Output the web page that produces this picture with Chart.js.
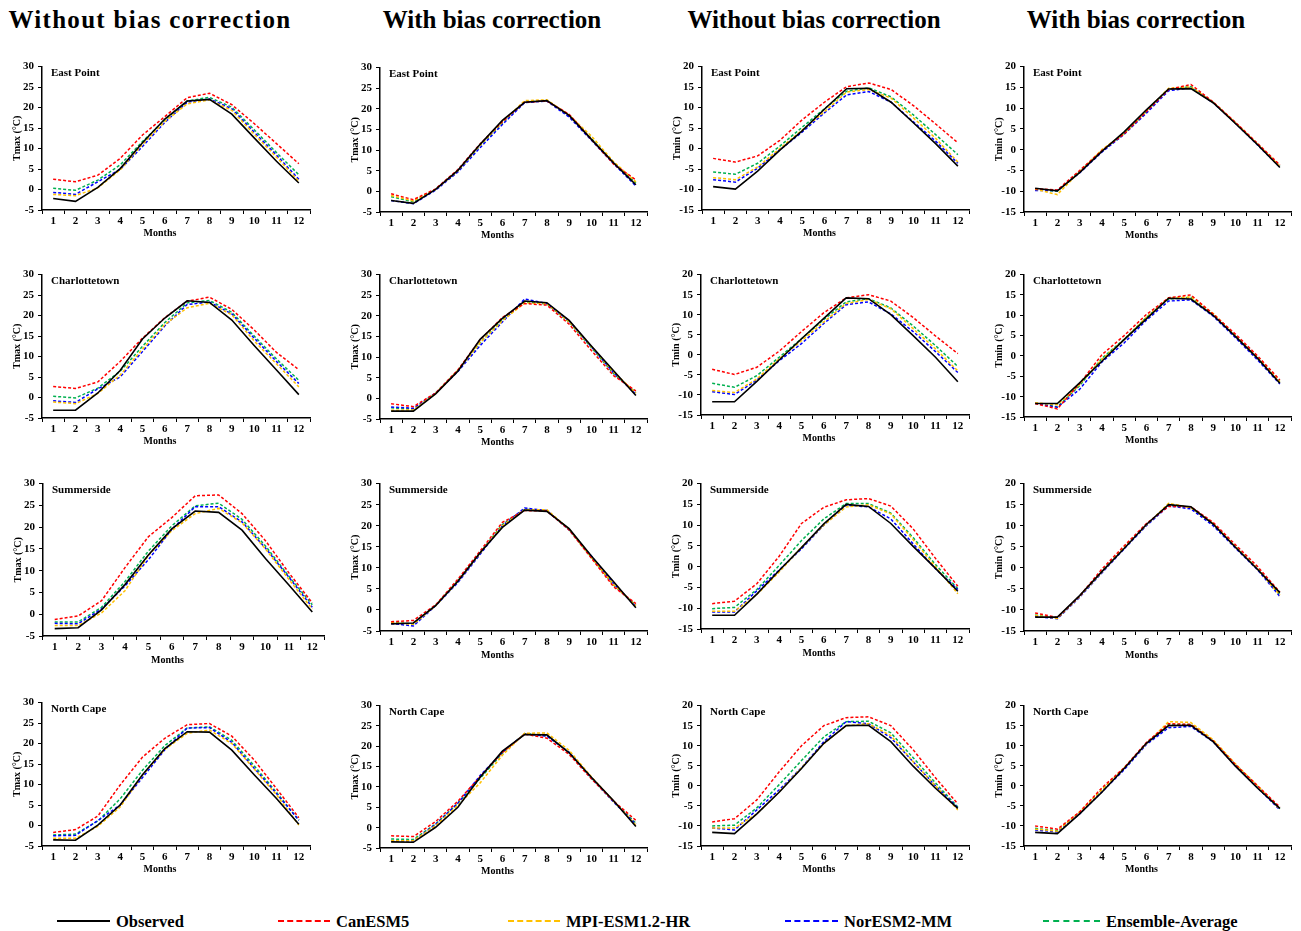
<!DOCTYPE html>
<html>
<head>
<meta charset="utf-8">
<script src="https://cdn.jsdelivr.net/npm/chart.js@4.4.1/dist/chart.umd.min.js"></script>
<style>
  html, body { margin: 0; padding: 0; background: #fff; }
  #page { position: relative; width: 1301px; height: 931px; overflow: hidden; background: #fff; }
  .heading { position: absolute; top: 6px; font: bold 25px "Liberation Serif", "Times New Roman", serif; color: #000; transform: translateX(-50%); white-space: nowrap; }
  canvas.panel { position: absolute; }
  .legend-line { position: absolute; height: 0; }
  .legend-text { position: absolute; font: bold 16.5px "Liberation Serif", "Times New Roman", serif; color: #000; white-space: nowrap; line-height: 20px; }
</style>
</head>
<body>
<div id="page"></div>
<script>
// ---- Data (monthly mean temperatures, °C) ----
const months = ['1', '2', '3', '4', '5', '6', '7', '8', '9', '10', '11', '12'];
const stations = ['East Point', 'Charlottetown', 'Summerside', 'North Cape'];
const seriesNames = ['Observed', 'CanESM5', 'MPI-ESM1.2-HR', 'NorESM2-MM', 'Ensemble-Average'];
const columnHeadings = ['Without bias correction', 'With bias correction', 'Without bias correction', 'With bias correction'];
const tmaxTicks = { min: -5, max: 30, step: 5 };
const tminTicks = { min: -15, max: 20, step: 5 };

// Observed station climatology
const eastPointTmaxObs     = [-2.2, -2.9, 0.5, 5.1, 11.4, 17.2, 21.6, 22.0, 18.4, 12.6, 6.9, 1.6];
const eastPointTminObs     = [-9.3, -9.9, -5.5, -0.4, 4.3, 9.6, 14.6, 14.7, 11.3, 6.3, 1.2, -4.3];
const charlottetownTmaxObs = [-3.1, -3.1, 1.1, 6.6, 14.3, 19.4, 23.6, 23.2, 18.9, 12.7, 6.7, 0.7];
const charlottetownTminObs = [-11.7, -11.7, -6.6, -1.3, 4.0, 9.1, 14.2, 14.0, 10.0, 4.8, -0.6, -6.7];
const summersideTmaxObs    = [-3.3, -3.1, 1.0, 6.8, 13.6, 19.6, 23.7, 23.4, 19.3, 12.8, 6.7, 0.5];
const summersideTminObs    = [-11.7, -11.7, -6.6, -0.9, 4.6, 10.3, 15.0, 14.5, 10.4, 4.9, -0.4, -5.9];
const northCapeTmaxObs     = [-3.5, -3.6, 0.1, 5.0, 12.4, 18.8, 22.9, 22.8, 18.4, 12.4, 6.6, 0.3];
const northCapeTminObs     = [-11.6, -11.9, -7.0, -1.6, 4.3, 10.6, 15.0, 15.1, 11.0, 4.9, -0.6, -5.6];

// Model series, in order: CanESM5, MPI-ESM1.2-HR, NorESM2-MM, Ensemble-Average
const eastPointTmaxRaw = [
  [2.5, 1.9, 3.5, 7.6, 13.3, 17.8, 22.4, 23.5, 20.7, 16.1, 11.2, 6.3],
  [-1.2, -1.5, 0.4, 4.8, 11.0, 16.6, 20.9, 21.9, 19.3, 13.5, 7.9, 2.0],
  [-0.7, -1.2, 1.9, 4.9, 10.5, 16.4, 21.3, 22.1, 19.7, 14.0, 8.4, 2.5],
  [0.3, -0.2, 2.3, 6.0, 11.7, 17.0, 21.6, 22.5, 20.1, 14.6, 9.0, 3.6]
];
const eastPointTmaxCorrected = [
  [-0.6, -2.0, 0.6, 5.3, 11.5, 16.9, 21.6, 21.9, 18.7, 12.6, 6.6, 2.8],
  [-1.0, -2.3, 0.5, 5.0, 11.2, 16.8, 22.0, 22.2, 18.5, 13.4, 7.2, 2.3],
  [-2.2, -3.0, 0.3, 4.7, 10.6, 16.2, 21.5, 21.9, 18.0, 12.4, 6.7, 1.3],
  [-1.3, -2.5, 0.5, 5.0, 11.1, 16.6, 21.7, 22.0, 18.4, 12.8, 6.8, 2.1]
];
const eastPointTminRaw = [
  [-2.4, -3.3, -1.8, 2.0, 7.0, 11.3, 15.1, 16.0, 14.4, 10.5, 6.0, 1.4],
  [-7.1, -7.6, -4.5, 0.0, 4.5, 9.0, 13.8, 14.4, 12.3, 7.5, 2.5, -3.3],
  [-7.6, -8.2, -4.8, -0.3, 4.0, 8.7, 13.1, 13.9, 11.3, 6.5, 1.8, -3.6],
  [-5.7, -6.3, -3.6, 0.6, 5.2, 9.7, 14.0, 14.8, 12.6, 8.2, 3.4, -1.5]
];
const eastPointTminCorrected = [
  [-9.4, -9.7, -5.0, -0.2, 3.8, 9.2, 14.5, 15.7, 11.5, 6.6, 1.5, -3.7],
  [-9.5, -10.8, -5.3, 0.0, 3.9, 9.3, 14.8, 15.1, 11.4, 6.5, 1.3, -4.0],
  [-9.8, -9.8, -5.6, -0.6, 3.7, 8.8, 14.2, 14.9, 11.3, 6.4, 1.1, -4.2],
  [-9.6, -10.0, -5.3, -0.3, 3.8, 9.1, 14.5, 15.2, 11.4, 6.5, 1.3, -4.0]
];

const charlottetownTmaxRaw = [
  [2.7, 2.2, 3.8, 8.8, 14.5, 19.5, 23.5, 24.5, 21.5, 16.5, 11.0, 6.8],
  [-1.1, -1.5, 1.0, 5.5, 11.8, 17.8, 21.9, 23.0, 20.2, 13.8, 8.2, 2.6],
  [-0.8, -1.2, 2.1, 5.0, 11.2, 17.5, 22.7, 23.3, 20.4, 14.5, 8.8, 3.4],
  [0.3, -0.1, 2.3, 6.4, 12.5, 18.3, 23.1, 23.7, 20.8, 15.0, 9.4, 4.2]
];
const charlottetownTmaxCorrected = [
  [-1.3, -2.0, 1.3, 6.9, 14.2, 19.6, 23.0, 22.6, 18.0, 11.6, 5.5, 1.8],
  [-2.9, -2.8, 1.2, 6.8, 13.5, 18.8, 23.1, 23.0, 18.6, 12.6, 6.4, 1.3],
  [-2.1, -2.4, 1.3, 6.5, 12.8, 18.5, 24.1, 23.0, 18.8, 12.5, 6.2, 1.0],
  [-2.3, -2.6, 1.3, 6.7, 13.5, 19.0, 23.4, 22.9, 18.5, 12.3, 6.0, 1.4]
];
const charlottetownTminRaw = [
  [-3.6, -4.9, -3.1, 0.9, 5.8, 10.5, 14.2, 15.0, 13.4, 9.3, 4.7, 0.3],
  [-8.9, -9.4, -6.0, -1.0, 3.5, 8.2, 12.8, 13.8, 11.5, 6.5, 1.5, -4.0],
  [-9.2, -9.9, -6.3, -1.5, 2.8, 7.8, 12.5, 13.2, 10.2, 5.8, 0.8, -4.4],
  [-7.1, -8.1, -5.2, -0.6, 4.0, 8.8, 13.2, 14.0, 11.7, 7.2, 2.3, -2.9]
];
const charlottetownTminCorrected = [
  [-11.7, -13.0, -6.8, 0.3, 5.0, 10.2, 14.3, 15.0, 10.3, 5.4, 0.0, -5.9],
  [-11.5, -12.0, -7.0, -0.8, 4.0, 9.5, 14.3, 14.5, 10.5, 5.0, -0.4, -6.3],
  [-11.6, -12.6, -8.2, -1.5, 3.2, 8.8, 13.5, 13.8, 9.8, 4.5, -1.0, -6.9],
  [-11.6, -12.5, -7.3, -0.6, 4.1, 9.5, 14.0, 14.4, 10.2, 5.0, -0.5, -6.4]
];

const summersideTmaxRaw = [
  [-1.2, -0.4, 3.1, 10.7, 17.8, 22.2, 27.2, 27.4, 23.1, 16.9, 9.5, 2.6],
  [-2.6, -2.6, 0.3, 5.4, 13.5, 19.2, 23.1, 24.3, 21.0, 15.0, 8.0, 1.2],
  [-2.1, -2.2, 1.2, 6.5, 12.5, 19.5, 24.7, 24.7, 21.2, 15.2, 8.5, 1.6],
  [-1.8, -1.8, 1.6, 7.5, 14.5, 20.3, 24.9, 25.5, 21.8, 15.7, 8.7, 2.2]
];
const summersideTmaxCorrected = [
  [-2.8, -2.5, 1.2, 7.3, 14.0, 20.8, 23.6, 23.5, 19.0, 12.3, 5.5, 1.5],
  [-3.0, -3.4, 1.0, 6.8, 13.5, 20.0, 23.8, 23.8, 19.2, 12.5, 6.0, 1.0],
  [-3.2, -3.8, 1.0, 6.5, 13.2, 20.0, 24.2, 23.6, 19.0, 12.8, 6.2, 0.8],
  [-3.0, -3.3, 1.1, 6.9, 13.6, 20.3, 23.9, 23.6, 19.1, 12.5, 5.9, 1.1]
];
const summersideTminRaw = [
  [-8.9, -8.3, -4.1, 2.5, 10.4, 14.3, 16.1, 16.4, 14.6, 9.1, 2.0, -4.7],
  [-10.7, -10.7, -6.7, -1.3, 4.7, 10.0, 14.4, 14.9, 12.7, 6.5, 0.0, -6.5],
  [-10.9, -10.9, -5.8, -0.8, 4.3, 10.0, 14.8, 14.4, 11.5, 5.5, -0.5, -5.5],
  [-10.1, -9.8, -5.5, 0.3, 6.3, 11.5, 15.2, 15.2, 12.9, 7.0, 0.5, -5.3]
];
const summersideTminCorrected = [
  [-10.7, -11.8, -6.7, -0.3, 5.2, 10.5, 14.6, 14.5, 10.8, 5.5, 0.3, -5.8],
  [-11.3, -12.0, -6.8, -1.0, 4.8, 10.2, 15.3, 14.3, 10.5, 5.0, -0.3, -6.5],
  [-11.5, -12.1, -7.0, -1.2, 4.5, 10.0, 14.7, 14.0, 10.0, 4.7, -0.5, -6.8],
  [-11.2, -12.0, -6.8, -0.8, 4.8, 10.2, 14.9, 14.3, 10.4, 5.1, -0.2, -6.4]
];

const northCapeTmaxRaw = [
  [-1.7, -1.0, 2.3, 9.9, 16.7, 21.3, 24.6, 24.9, 21.8, 16.0, 9.0, 1.9],
  [-3.1, -3.1, -0.2, 4.5, 12.3, 18.6, 22.5, 23.3, 20.0, 13.8, 7.5, 0.1],
  [-2.5, -2.4, 1.2, 5.0, 11.7, 18.5, 23.8, 23.9, 20.3, 14.0, 7.8, 1.3],
  [-2.3, -2.1, 1.1, 6.5, 13.5, 19.5, 23.8, 24.1, 20.8, 14.6, 8.1, 1.3]
];
const northCapeTmaxCorrected = [
  [-2.0, -2.2, 1.5, 6.5, 12.5, 18.5, 23.0, 22.0, 18.0, 12.0, 6.5, 1.8],
  [-3.2, -3.2, 0.5, 5.5, 11.0, 17.8, 23.2, 23.3, 19.0, 12.5, 6.5, 0.6],
  [-3.3, -3.3, 0.8, 6.0, 12.8, 18.5, 23.0, 22.5, 18.5, 12.2, 6.3, 0.8],
  [-2.8, -2.9, 0.9, 6.0, 12.1, 18.3, 23.1, 22.6, 18.5, 12.2, 6.4, 1.1]
];
const northCapeTminRaw = [
  [-9.0, -8.2, -3.5, 3.5, 10.0, 15.0, 17.0, 17.2, 15.0, 9.0, 2.0, -4.5],
  [-10.5, -10.5, -7.0, -1.5, 4.5, 10.5, 15.0, 15.5, 12.5, 6.0, 0.0, -6.0],
  [-10.5, -11.0, -6.0, -1.0, 4.5, 11.0, 16.0, 15.5, 12.0, 6.0, 0.0, -5.5],
  [-10.0, -9.8, -5.5, 0.3, 6.3, 12.2, 16.0, 16.1, 13.2, 7.0, 0.7, -5.3]
];
const northCapeTminCorrected = [
  [-10.0, -10.8, -6.5, -0.5, 4.5, 10.8, 15.5, 15.3, 11.2, 5.3, 0.0, -5.3],
  [-10.8, -11.3, -6.5, -1.0, 4.5, 10.5, 16.0, 15.8, 11.5, 5.5, 0.0, -5.8],
  [-11.0, -11.5, -7.0, -1.5, 4.0, 10.3, 14.5, 14.8, 11.0, 5.0, -0.5, -6.0],
  [-10.6, -11.2, -6.7, -1.0, 4.3, 10.5, 15.3, 15.3, 11.2, 5.3, -0.2, -5.7]
];

// ---- Styling ----
const SERIF = '"Liberation Serif", "Times New Roman", serif';
const seriesColors = ['#000000', '#ff0000', '#ffc000', '#0000ff', '#00b050'];

// Plot-area rectangles per panel: [axis x, right end, top (max), bottom (min)]
const panelBoxes = [
  [[42, 310, 66, 210], [380, 647, 67, 212], [702, 969, 66, 210], [1024, 1291, 66, 212]],
  [[42, 310, 274, 418], [380, 647, 274, 419], [701, 969, 274, 415], [1024, 1291, 274, 417]],
  [[43, 324, 483, 636], [380, 647, 483, 631], [701, 969, 483, 629], [1024, 1291, 483, 631]],
  [[42, 310, 702, 846], [380, 647, 705, 848], [701, 969, 705, 846], [1024, 1291, 705, 846]]
];
const headingCenters = [150, 492, 814, 1136];
const headingSpacing = ['1.3px', '0', '0', '0'];

const panelData = [
  [[eastPointTmaxObs, eastPointTmaxRaw], [eastPointTmaxObs, eastPointTmaxCorrected],
   [eastPointTminObs, eastPointTminRaw], [eastPointTminObs, eastPointTminCorrected]],
  [[charlottetownTmaxObs, charlottetownTmaxRaw], [charlottetownTmaxObs, charlottetownTmaxCorrected],
   [charlottetownTminObs, charlottetownTminRaw], [charlottetownTminObs, charlottetownTminCorrected]],
  [[summersideTmaxObs, summersideTmaxRaw], [summersideTmaxObs, summersideTmaxCorrected],
   [summersideTminObs, summersideTminRaw], [summersideTminObs, summersideTminCorrected]],
  [[northCapeTmaxObs, northCapeTmaxRaw], [northCapeTmaxObs, northCapeTmaxCorrected],
   [northCapeTminObs, northCapeTminRaw], [northCapeTminObs, northCapeTminCorrected]]
];

const page = document.getElementById('page');

// Column headings
columnHeadings.forEach((text, i) => {
  const el = document.createElement('div');
  el.className = 'heading';
  el.textContent = text;
  el.style.left = headingCenters[i] + 'px';
  el.style.letterSpacing = headingSpacing[i];
  page.appendChild(el);
});

// Station name inside the plot (top-left) and the "Months" caption under the axis
const panelText = {
  id: 'panelText',
  afterDraw(chart, args, opts) {
    const { ctx, chartArea } = chart;
    ctx.save();
    ctx.fillStyle = '#000';
    ctx.textBaseline = 'middle';
    ctx.font = 'bold 11px ' + SERIF;
    ctx.textAlign = 'left';
    ctx.fillText(opts.station, chartArea.left + 9, chartArea.top + 7);
    ctx.font = 'bold 10px ' + SERIF;
    ctx.textAlign = 'center';
    const cx = (chartArea.left + chartArea.right) / 2 - 16;
    ctx.fillText('Months', cx, chartArea.bottom + opts.captionGap);
    ctx.restore();
  }
};

const LEFT_W = 42, TOP_PAD = 10, BOTTOM_H = 30, RIGHT_PAD = 6;

stations.forEach((station, r) => {
  for (let c = 0; c < 4; c++) {
    const [ax, right, top, bottom] = panelBoxes[r][c];
    const [obs, models] = panelData[r][c];
    const isTmax = c < 2;
    const range = isTmax ? tmaxTicks : tminTicks;

    const canvas = document.createElement('canvas');
    canvas.className = 'panel';
    const w = right - ax + LEFT_W + RIGHT_PAD;
    const h = bottom - top + TOP_PAD + BOTTOM_H;
    canvas.width = w; canvas.height = h;
    canvas.style.width = w + 'px'; canvas.style.height = h + 'px';
    canvas.style.left = (ax - LEFT_W) + 'px';
    canvas.style.top = (top - TOP_PAD) + 'px';
    page.appendChild(canvas);

    const datasets = [obs, ...models].map((values, i) => ({
      label: seriesNames[i],
      data: values,
      borderColor: seriesColors[i],
      backgroundColor: seriesColors[i],
      borderWidth: i === 0 ? 1.6 : 1.5,
      borderDash: i === 0 ? [] : [3, 2],
      pointRadius: 0,
      tension: 0,
      fill: false
    }));

    new Chart(canvas, {
      type: 'line',
      data: { labels: months, datasets },
      options: {
        responsive: false,
        animation: false,
        devicePixelRatio: 1,
        events: [],
        layout: { padding: { left: 0, right: RIGHT_PAD, top: TOP_PAD, bottom: 0 } },
        plugins: {
          legend: { display: false },
          tooltip: { enabled: false },
          panelText: { station, captionGap: r === 2 ? 24 : 23 }
        },
        scales: {
          x: {
            type: 'category',
            offset: true,
            afterFit(scale) { scale.height = BOTTOM_H; },
            grid: { offset: true, drawOnChartArea: false, drawTicks: true, tickLength: 4, color: '#000', lineWidth: 1 },
            border: { display: true, color: '#000', width: 1.5 },
            ticks: { color: '#000', font: { family: SERIF, size: 11, weight: 'bold' }, padding: 1, maxRotation: 0, autoSkip: false },
            title: { display: false }
          },
          y: {
            min: range.min,
            max: range.max,
            afterFit(scale) { scale.width = LEFT_W; },
            grid: { drawOnChartArea: false, drawTicks: true, tickLength: 4, color: '#000', lineWidth: 1 },
            border: { display: true, color: '#000', width: 1.5 },
            ticks: { stepSize: range.step, color: '#000', font: { family: SERIF, size: 11, weight: 'bold' }, padding: 4 },
            title: { display: true, text: isTmax ? 'Tmax (°C)' : 'Tmin (°C)', color: '#000', font: { family: SERIF, size: 10, weight: 'bold' }, padding: { top: 11, bottom: 0 } }
          }
        }
      },
      plugins: [panelText]
    });
  }
});

// Legend along the bottom
const legendItems = [
  { x1: 57, x2: 110, text: 116 },
  { x1: 278, x2: 330, text: 336 },
  { x1: 508, x2: 560, text: 566 },
  { x1: 785, x2: 838, text: 844 },
  { x1: 1043, x2: 1100, text: 1106 }
];
legendItems.forEach((item, i) => {
  const line = document.createElement('div');
  line.className = 'legend-line';
  line.style.left = item.x1 + 'px';
  line.style.width = (item.x2 - item.x1) + 'px';
  line.style.top = '920px';
  line.style.borderTop = i === 0 ? '2px solid #000' : '2px dashed ' + seriesColors[i];
  page.appendChild(line);
  const label = document.createElement('div');
  label.className = 'legend-text';
  label.textContent = seriesNames[i];
  label.style.left = item.text + 'px';
  label.style.top = '912px';
  page.appendChild(label);
});
</script>
</body>
</html>
